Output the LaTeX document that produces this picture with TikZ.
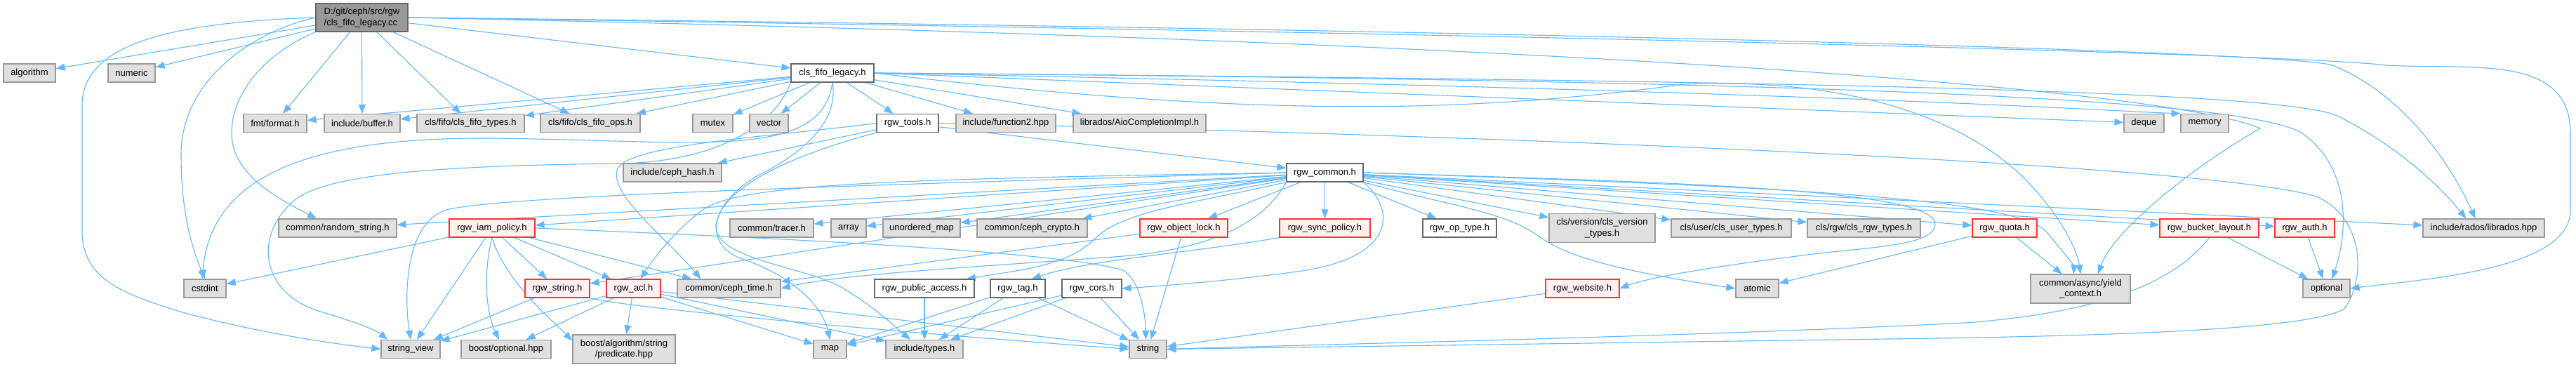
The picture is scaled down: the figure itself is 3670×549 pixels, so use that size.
\documentclass[tikz,border=0pt]{standalone}
\usepackage{fontspec}
\setmainfont{Liberation Sans}
\usetikzlibrary{arrows.meta,calc,backgrounds}
\definecolor{ecol}{HTML}{63B8FF}
\definecolor{gfill}{HTML}{E0E0E0}
\definecolor{gdraw}{HTML}{999999}
\definecolor{wdraw}{HTML}{666666}
\definecolor{rfill}{HTML}{FFF0F0}
\definecolor{rdraw}{HTML}{FF3030}
\definecolor{mfill}{HTML}{999999}
\tikzset{
 box/.style={draw, line width=1.2pt, minimum height=26pt, inner sep=0pt, font=\fontsize{13}{15.5}\selectfont, align=center},
 gbox/.style={box, fill=gfill, draw=gdraw},
 wbox/.style={box, fill=white, draw=wdraw},
 rbox/.style={box, fill=rfill, draw=rdraw},
 mbox/.style={box, fill=mfill, draw=wdraw, align=left},
 e/.style={draw=ecol, line width=1.1pt, -{Triangle[length=13pt,width=10pt]}},
}
\begin{document}
\begin{tikzpicture}[x=1pt,y=-1pt]
\useasboundingbox (0,0) rectangle (3670,549);
% row 0
\node[mbox, minimum width=131pt, minimum height=40pt] (m) at (515.5,25) {D:/git/ceph/src/rgw\\/cls\_fifo\_legacy.cc};
% row 1
\node[gbox, minimum width=74pt] (algo) at (42,104) {algorithm};
\node[gbox, minimum width=67pt] (numeric) at (187.5,104) {numeric};
\node[wbox, minimum width=118pt] (L) at (1186,104) {cls\_fifo\_legacy.h};
% row 2
\node[gbox, minimum width=90pt] (fmt) at (392,175.5) {fmt/format.h};
\node[gbox, minimum width=108pt] (buffer) at (516,175.5) {include/buffer.h};
\node[gbox, minimum width=153pt] (ftypes) at (670.5,175.5) {cls/fifo/cls\_fifo\_types.h};
\node[gbox, minimum width=142pt] (fops) at (841,175.5) {cls/fifo/cls\_fifo\_ops.h};
\node[gbox, minimum width=57pt] (mutex) at (1015.5,175.5) {mutex};
\node[gbox, minimum width=55pt] (vector) at (1095.5,175.5) {vector};
\node[wbox, minimum width=88pt] (T) at (1293,175.5) {rgw\_tools.h};
\node[gbox, minimum width=142pt] (func2) at (1433,175.5) {include/function2.hpp};
\node[gbox, minimum width=189pt] (aio) at (1623.5,175.5) {librados/AioCompletionImpl.h};
\node[gbox, minimum width=57pt] (deque) at (3054.5,175.5) {deque};
\node[gbox, minimum width=68pt] (memory) at (3141,175.5) {memory};
% row 3
\node[gbox, minimum width=140pt] (chash) at (958,246) {include/ceph\_hash.h};
\node[wbox, minimum width=109pt] (C) at (1887.5,246) {rgw\_common.h};
% row 4
\node[gbox, minimum width=168pt] (randstr) at (481,325) {common/random\_string.h};
\node[rbox, minimum width=122pt] (iam) at (701,325) {rgw\_iam\_policy.h};
\node[gbox, minimum width=119pt] (tracer) at (1099.5,325) {common/tracer.h};
\node[gbox, minimum width=50pt] (array) at (1209,325) {array};
\node[gbox, minimum width=110pt] (umap) at (1313,325) {unordered\_map};
\node[gbox, minimum width=157pt] (crypto) at (1470.5,325) {common/ceph\_crypto.h};
\node[rbox, minimum width=125pt] (olock) at (1686.5,325) {rgw\_object\_lock.h};
\node[rbox, minimum width=129pt] (spol) at (1887.5,325) {rgw\_sync\_policy.h};
\node[wbox, minimum width=105pt] (optype) at (2079.5,325) {rgw\_op\_type.h};
\node[gbox, minimum width=151pt, minimum height=41pt] (cver) at (2282.5,325) {cls/version/cls\_version\\\_types.h};
\node[gbox, minimum width=171pt] (cuser) at (2466.5,325) {cls/user/cls\_user\_types.h};
\node[gbox, minimum width=161pt] (crgw) at (2655.5,325) {cls/rgw/cls\_rgw\_types.h};
\node[rbox, minimum width=92pt] (quota) at (2856,325) {rgw\_quota.h};
\node[rbox, minimum width=141pt] (bucket) at (3147.5,325) {rgw\_bucket\_layout.h};
\node[rbox, minimum width=85pt] (auth) at (3283.5,325) {rgw\_auth.h};
\node[gbox, minimum width=173pt] (librados) at (3538.5,325) {include/rados/librados.hpp};
% row 5
\node[gbox, minimum width=60pt] (cstdint) at (292,411) {cstdint};
\node[rbox, minimum width=92pt] (rstring) at (794,411) {rgw\_string.h};
\node[rbox, minimum width=77pt] (acl) at (902.5,411) {rgw\_acl.h};
\node[gbox, minimum width=147pt] (ctime) at (1038.5,411) {common/ceph\_time.h};
\node[wbox, minimum width=142pt] (pub) at (1317,411) {rgw\_public\_access.h};
\node[wbox, minimum width=78pt] (tag) at (1450,411) {rgw\_tag.h};
\node[wbox, minimum width=85pt] (cors) at (1555.5,411) {rgw\_cors.h};
\node[rbox, minimum width=105pt] (website) at (2254.5,411) {rgw\_website.h};
\node[gbox, minimum width=61pt] (atomic) at (2503.5,411) {atomic};
\node[gbox, minimum width=142pt, minimum height=41pt] (yield) at (2964,411.5) {common/async/yield\\\_context.h};
\node[gbox, minimum width=67pt] (optional) at (3314.5,411) {optional};
% row 6
\node[gbox, minimum width=84pt] (sview) at (585,497.5) {string\_view};
\node[gbox, minimum width=128pt] (bopt) at (721,497.5) {boost/optional.hpp};
\node[gbox, minimum width=146pt, minimum height=41pt] (pred) at (889,497.5) {boost/algorithm/string\\/predicate.hpp};
\node[gbox, minimum width=47pt] (map) at (1182.5,497.5) {map};
\node[gbox, minimum width=110pt] (itypes) at (1317,497.5) {include/types.h};
\node[gbox, minimum width=53pt] (string) at (1635.5,497.5) {string};

\begin{pgfonlayer}{background}
\fill[white] (0,0) rectangle (3670,549);
% main file
\draw[e] (m) -- (algo);
\draw[e] (m) -- (numeric);
\draw[e] (m) -- (fmt);
\draw[e] (m) -- (buffer);
\draw[e] (m) -- (ftypes);
\draw[e] (m) -- (fops);
\draw[e] (m) -- (L);
\draw[e] (m.west) .. controls (350,48) and (258,120) .. (258,220) .. controls (258,300) and (272,350) .. (cstdint.north);
\draw[e] (m.west) .. controls (250,32) and (117,60) .. (117,150) -- (117,330) .. controls (117,400) and (180,420) .. (260,445) .. controls (360,472) and (460,488) .. (sview.west);
\draw[e] (m.south west) .. controls (380,75) and (330,130) .. (330,190) .. controls (330,250) and (400,285) .. ($(randstr.north)+(-30,0)$);
\draw[e] (m.east) .. controls (2000,40) and (3200,70) .. (3320,92) .. controls (3420,130) and (3490,230) .. ($(librados.north)+(-12,0)$);
\draw[e] (m.east) .. controls (2000,45) and (3250,75) .. (3400,93) .. controls (3520,100) and (3662,75) .. (3662,190) -- (3662,300) .. controls (3662,385) and (3450,398) .. (optional.east);
\draw[e] (m.east) .. controls (2300,60) and (3100,130) .. (3220,183) .. controls (3120,240) and (3010,330) .. ($(yield.north)+(25,0)$);
% cls_fifo_legacy.h
\draw[e] (L) -- (mutex);
\draw[e] (L) -- (vector);
\draw[e] (L) -- (T);
\draw[e] (L) -- (func2);
\draw[e] (L) -- (aio);
\draw[e] (L) -- (fmt);
\draw[e] (L) -- (buffer);
\draw[e] (L) -- (ftypes);
\draw[e] (L) -- (fops);
\draw[e] (L.east) -- (deque);
\draw[e] (L.east) .. controls (2600,130) and (3000,158) .. (memory.north west);
\draw[e] (L.east) .. controls (2600,115) and (3200,140) .. (3280,190) .. controls (3350,240) and (3345,330) .. ($(optional.north)+(8,0)$);
\draw[e] (L.east) .. controls (2600,115) and (3250,130) .. (3330,165) .. controls (3420,210) and (3480,270) .. ($(librados.north)+(-25,0)$);
\draw[e] (L.east) .. controls (1800,170) and (2100,160) .. (2400,120) .. controls (2650,110) and (2800,175) .. (2880,250) .. controls (2940,310) and (2960,360) .. (yield.north);
\draw[e] (L.south) .. controls (1170,230) and (1000,200) .. (700,197) .. controls (420,195) and (300,260) .. ($(cstdint.north)+(-4,0)$);
\draw[e] (L.south west) .. controls (1100,190) and (1000,232) .. (880,233) .. controls (650,236) and (470,245) .. (420,285) .. controls (360,335) and (370,420) .. (460,445) .. controls (510,460) and (535,470) .. ($(sview.north west)+(10,0)$);
\draw[e] (L.south) .. controls (1195,170) and (1150,215) .. (1080,250) .. controls (1010,290) and (1000,350) .. (1060,370) .. controls (1120,390) and (1170,430) .. (map.north);
% rgw_tools.h
\draw[e] (T) -- (chash);
\draw[e] (T) -- (C);
\draw[e] (T.east) .. controls (2200,195) and (3150,235) .. (3300,280) .. controls (3370,310) and (3370,400) .. (3340,440) .. controls (3290,470) and (3000,478) .. (2760,482) -- (string.east);
\draw[e] (T.south west) .. controls (1150,215) and (1030,260) .. (1020,320) .. controls (1015,370) and (1150,380) .. (1200,410) .. controls (1250,440) and (1280,470) .. ($(itypes.north)+(-20,0)$);
\draw[e] (T.west) .. controls (1100,195) and (900,205) .. (880,240) .. controls (865,275) and (950,340) .. ($(ctime.north)+(-40,0)$);
% rgw_common.h
\draw[e] (C) -- (randstr);
\draw[e] (C) -- (iam);
\draw[e] (C) -- (rstring);
\draw[e] (C.west) .. controls (1300,255) and (1050,260) .. (1000,300) .. controls (960,330) and (930,370) .. ($(acl.north)+(10,0)$);
\draw[e] (C.west) .. controls (1300,262) and (700,278) .. (633,300) .. controls (578,320) and (575,420) .. (sview.north);
\draw[e] (C) -- (tracer);
\draw[e] (C) -- (array);
\draw[e] (C) -- (umap);
\draw[e] (C) -- (crypto);
\draw[e] (C) -- (olock);
\draw[e] (C) -- (spol);
\draw[e] (C.south west) .. controls (1700,290) and (1600,300) .. (1560,340) .. controls (1520,380) and (1450,385) .. ($(pub.north)+(60,0)$);
\draw[e] (C.south west) .. controls (1800,320) and (1720,355) .. (1600,365) .. controls (1400,380) and (1200,390) .. (ctime.east);
\draw[e] (C.south east) .. controls (1990,300) and (1990,370) .. (1840,388) .. controls (1750,400) and (1650,408) .. (cors.east);
\draw[e] (C) -- (optype);
\draw[e] (C) -- (cver);
\draw[e] (C) -- (cuser);
\draw[e] (C) -- (crgw);
\draw[e] (C) -- (quota);
\draw[e] (C) -- (bucket);
\draw[e] (C) -- (auth);
\draw[e] (C) -- (librados);
\draw[e] (C.east) .. controls (2500,265) and (2870,280) .. (2915,330) .. controls (2945,365) and (2955,380) .. ($(yield.north)+(-10,0)$);
\draw[e] (C.south east) .. controls (2050,290) and (2140,300) .. (2190,335) .. controls (2230,365) and (2300,385) .. (atomic.west);
\draw[e] (C.east) .. controls (2400,260) and (2760,270) .. (2757,320) .. controls (2755,345) and (2700,350) .. (2600,360) .. controls (2450,378) and (2350,395) .. (website.east);
% rgw_iam_policy.h
\draw[e] (iam) -- (cstdint);
\draw[e] (iam) -- (sview);
\draw[e] (iam) -- (rstring);
\draw[e] (iam) -- (acl);
\draw[e] (iam) -- (ctime);
\draw[e] (iam.south) .. controls (690,380) and (690,440) .. ($(bopt.north)+(-10,0)$);
\draw[e] (iam.south) .. controls (720,400) and (780,450) .. ($(pred.west)+(0,-12)$);
\draw[e] (iam.east) .. controls (1000,335) and (1500,355) .. (1600,385) .. controls (1625,400) and (1632,450) .. ($(string.north)+(-3,0)$);
% rgw_string.h
\draw[e] (rstring) -- (sview);
\draw[e] (rstring.south east) .. controls (900,440) and (1300,475) .. (string.west);
% rgw_acl.h
\draw[e] (acl) -- (sview);
\draw[e] (acl) -- (bopt);
\draw[e] (acl) -- (pred);
\draw[e] (acl) -- (map);
\draw[e] (acl) -- (itypes);
\draw[e] (acl) -- (string);
% others
\draw[e] (olock) -- (string);
\draw[e] (olock) -- (ctime);
\draw[e] (spol.south west) .. controls (1700,360) and (1550,370) .. ($(tag.north)+(20,0)$);
\draw[e] (tag) -- (string);
\draw[e] (tag) -- (map);
\draw[e] (tag) -- (itypes);
\draw[e] (cors) -- (string);
\draw[e] (cors) -- (map);
\draw[e] (cors) -- (itypes);
\draw[e] (pub) -- (itypes);
\draw[e] (website) -- (string);
\draw[e] (quota) -- (yield);
\draw[e] (quota) -- (atomic);
\draw[e] (bucket) -- (optional);
\draw[e] (bucket.south) .. controls (3100,400) and (3000,445) .. (2800,460) .. controls (2400,480) and (1900,490) .. (string.east);
\draw[e] (auth) -- (optional);
\end{pgfonlayer}
\end{tikzpicture}
\end{document}
